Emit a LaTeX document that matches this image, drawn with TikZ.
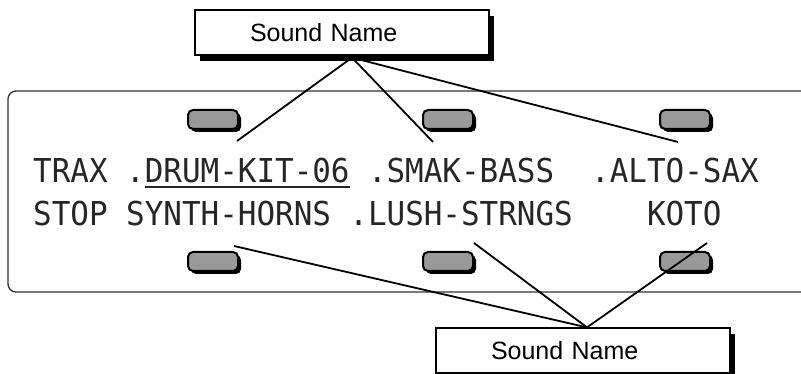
\documentclass[tikz,border=0pt]{standalone}
\usepackage{fontspec}
\usepackage{tikz}
\usetikzlibrary{positioning, calc, shadows}
\setmainfont{Liberation Sans}
\newfontfamily\lcdfont[FakeStretch=0.94]{DejaVu Sans Mono}

\begin{document}
\begin{tikzpicture}[x=1pt, y=-1pt,
  namebox/.style = {rectangle, draw=black, line width=1.2pt, fill=white,
                    general shadow={fill=black, shadow xshift=5pt, shadow yshift=-6pt},
                    minimum width=294pt, minimum height=45pt, inner xsep=55pt, inner ysep=0pt,
                    text width=184pt, align=left, font=\fontsize{25}{30}\selectfont},
  softkey/.style = {rectangle, draw=black, line width=2pt, fill=black!40, rounded corners=5pt,
                    general shadow={fill=black, shadow xshift=3pt, shadow yshift=-3pt},
                    minimum width=50pt, minimum height=19pt, inner sep=0pt},
  lcd/.style     = {anchor=base west, inner sep=0pt, text=black!85,
                    font=\lcdfont\fontsize{32.9}{36}\selectfont},
  pointer/.style = {black, line width=1.8pt},
]
  \useasboundingbox (0,0) rectangle (801,374);

  % display panel, open on the right
  \draw[black!80, line width=1.3pt, rounded corners=8pt]
    (805,91) -- (8,91) -- (8,292) -- (805,292);

  % soft keys
  \node[softkey] (keyA) at (213,119.5) {};
  \node[softkey] (keyB) at (448,119.5) {};
  \node[softkey] (keyC) at (685,119.5) {};
  \node[softkey] (keyD) at (213,261.5) {};
  \node[softkey] (keyE) at (448,261.5) {};
  \node[softkey] (keyF) at (685,261.5) {};

  % display text, one column = 18.6pt
  \node[lcd] (trax)  at ({33+0*18.6},183)  {TRAX};
  \node[lcd] (drum)  at ({33+5*18.6},183)  {.DRUM-KIT-06};
  \node[lcd] (smak)  at ({33+18*18.6},183) {.SMAK-BASS};
  \node[lcd] (alto)  at ({33+30*18.6},183) {.ALTO-SAX};
  \node[lcd] (stop)  at ({33+0*18.6},226)  {STOP};
  \node[lcd] (synth) at ({33+5*18.6},226)  {SYNTH-HORNS};
  \node[lcd] (lush)  at ({33+17*18.6},226) {.LUSH-STRNGS};
  \node[lcd] (koto)  at ({33+33*18.6},226) {KOTO};
  \draw[black!85, line width=1.8pt] ($(drum.base west)+(18.6,4)$) -- ($(drum.base east)+(0,4)$);

  % callouts
  \node[namebox] (topname) at (342,32.5)  {Sound Name};
  \node[namebox] (botname) at (583,350.5) {Sound Name};

  \coordinate (topfoot) at ($(topname.south)+(10,2)$);
  \coordinate (botfoot) at ($(botname.north)+(4,0)$);
  \coordinate (tipA) at (237,141);
  \coordinate (tipB) at (433,142);
  \coordinate (tipC) at (678,142);
  \coordinate (tipD) at (234,246);
  \coordinate (tipE) at (474,243);
  \coordinate (tipF) at (707,243);

  \draw[pointer] (topfoot) -- (tipA);
  \draw[pointer] (topfoot) -- (tipB);
  \draw[pointer] (topfoot) -- (tipC);
  \draw[pointer] (botfoot) -- (tipD);
  \draw[pointer] (botfoot) -- (tipE);
  \draw[pointer] (botfoot) -- (tipF);
\end{tikzpicture}
\end{document}
